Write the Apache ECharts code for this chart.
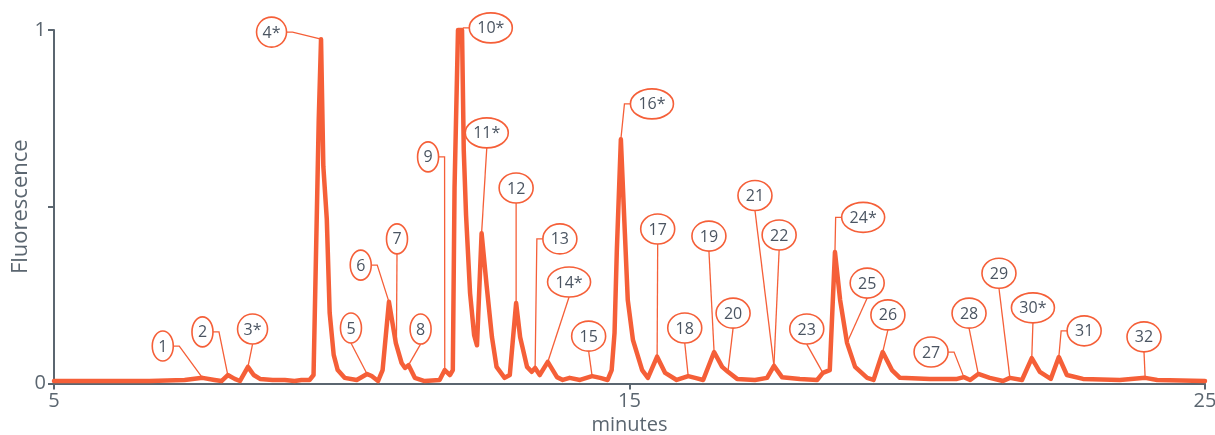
<!DOCTYPE html>
<html>
<head>
<meta charset="utf-8">
<script src="https://cdn.jsdelivr.net/npm/echarts@6/dist/echarts.min.js"></script>
<style>
  html, body { margin: 0; padding: 0; background: #ffffff; }
  #chart { width: 1215px; height: 435px; }
</style>
</head>
<body>
<div id="chart"></div>
<script>
// Chromatogram trace: retention time (minutes) and normalised fluorescence
const minutes = [
  5.00, 6.66, 7.27, 7.58, 7.79, 7.91, 8.02, 8.14, 8.23, 8.37,
  8.47, 8.58, 8.80, 9.01, 9.18, 9.30, 9.44, 9.51, 9.60, 9.64,
  9.68, 9.74, 9.79, 9.86, 9.93, 10.05, 10.26, 10.44, 10.52, 10.63,
  10.71, 10.82, 10.94, 11.04, 11.10, 11.16, 11.27, 11.44, 11.70, 11.79,
  11.88, 11.93, 11.96, 12.02, 12.09, 12.12, 12.16, 12.23, 12.30, 12.35,
  12.43, 12.52, 12.61, 12.69, 12.83, 12.92, 13.03, 13.10, 13.22, 13.30,
  13.36, 13.44, 13.58, 13.74, 13.84, 13.96, 14.14, 14.35, 14.49, 14.62,
  14.69, 14.74, 14.78, 14.85, 14.92, 14.97, 15.06, 15.22, 15.32, 15.48,
  15.62, 15.82, 16.02, 16.14, 16.28, 16.47, 16.61, 16.71, 16.87, 17.18,
  17.39, 17.51, 17.65, 17.96, 18.26, 18.36, 18.48, 18.57, 18.66, 18.78,
  18.92, 19.13, 19.24, 19.40, 19.56, 19.70, 20.22, 20.69, 20.81, 20.92,
  21.06, 21.26, 21.49, 21.61, 21.82, 21.99, 22.13, 22.32, 22.46, 22.60,
  22.88, 23.52, 23.96, 24.17, 25.00
];
const fluorescence = [
  0.007, 0.007, 0.010, 0.016, 0.010, 0.007, 0.024, 0.013, 0.007, 0.047,
  0.024, 0.013, 0.010, 0.010, 0.007, 0.010, 0.010, 0.024, 0.745, 0.974,
  0.614, 0.465, 0.200, 0.081, 0.038, 0.016, 0.010, 0.027, 0.021, 0.007,
  0.038, 0.231, 0.114, 0.058, 0.044, 0.052, 0.016, 0.007, 0.010, 0.038,
  0.024, 0.038, 0.555, 1.000, 1.000, 0.660, 0.476, 0.255, 0.137, 0.108,
  0.425, 0.273, 0.131, 0.047, 0.016, 0.024, 0.228, 0.131, 0.047, 0.033,
  0.044, 0.024, 0.061, 0.018, 0.010, 0.016, 0.010, 0.021, 0.016, 0.010,
  0.038, 0.143, 0.377, 0.691, 0.424, 0.236, 0.123, 0.038, 0.016, 0.076,
  0.030, 0.010, 0.021, 0.016, 0.010, 0.089, 0.047, 0.033, 0.013, 0.010,
  0.016, 0.050, 0.018, 0.013, 0.010, 0.030, 0.038, 0.372, 0.236, 0.115,
  0.047, 0.016, 0.010, 0.089, 0.038, 0.016, 0.013, 0.013, 0.018, 0.010,
  0.027, 0.016, 0.007, 0.016, 0.010, 0.072, 0.033, 0.013, 0.075, 0.024,
  0.013, 0.010, 0.016, 0.010, 0.007
];

// Axis ticks
const xTicks = [5, 15, 25];
const yTicks = [0, 0.5, 1];
const yTickLabels = ['0', '', '1'];

// Numbered peaks (* = marked compounds) and the point on the trace each one names
const peakNames = ['1', '2', '3*', '4*', '5', '6', '7', '8', '9', '10*', '11*', '12', '13', '14*', '15', '16*',
                   '17', '18', '19', '20', '21', '22', '23', '24*', '25', '26', '27', '28', '29', '30*', '31', '32'];
const peakMinute = [7.58, 8.02, 8.37, 9.64, 10.44, 10.82, 10.95, 11.16, 11.79, 12.09, 12.43, 13.03, 13.36, 13.58, 14.35, 14.85,
                    15.48, 16.02, 16.47, 16.71, 17.51, 17.51, 18.36, 18.57, 18.78, 19.40, 20.81, 21.06, 21.61, 21.99, 22.46, 23.96];
const peakSignal = [0.016, 0.024, 0.047, 0.974, 0.027, 0.231, 0.112, 0.052, 0.038, 1.000, 0.425, 0.228, 0.044, 0.061, 0.021, 0.691,
                    0.076, 0.021, 0.089, 0.033, 0.050, 0.050, 0.030, 0.372, 0.115, 0.089, 0.018, 0.027, 0.016, 0.072, 0.075, 0.016];

// Callout placement (data units) and the edge of the bubble that the leader enters
const calloutLayout = {
  minute: [6.89, 7.58, 8.45, 8.78, 10.16, 10.33, 10.96, 11.37, 11.50, 12.59, 12.52, 13.03, 13.79, 13.95, 14.29, 15.39,
           15.49, 15.96, 16.38, 16.80, 17.18, 17.60, 18.08, 19.06, 19.13, 19.49, 20.24, 20.90, 21.42, 22.01, 22.90, 23.94],
  signal: [0.106, 0.146, 0.154, 0.994, 0.157, 0.335, 0.409, 0.154, 0.641, 1.006, 0.709, 0.553, 0.409, 0.287, 0.134, 0.791,
           0.437, 0.157, 0.417, 0.199, 0.532, 0.420, 0.154, 0.470, 0.284, 0.194, 0.089, 0.199, 0.312, 0.214, 0.149, 0.132],
  edge:   ['r', 'r', 'b', 'r', 'b', 'r', 'b', 'b', 'r', 'l', 'b', 'b', 'l', 'b', 'b', 'l',
           'b', 'b', 'b', 'b', 'b', 'b', 'b', 'l', 'b', 'b', 'r', 'b', 'b', 'b', 'l', 'b']
};

const TRACE = '#f55f38';
const INK = '#4b5562';
const AXIS = '#5b6670';
const FONT = '"Open Sans", "Liberation Sans", sans-serif';

const traceData = minutes.map((m, i) => [m, fluorescence[i]]);
const calloutData = peakNames.map((n, i) =>
  [peakMinute[i], peakSignal[i], calloutLayout.minute[i], calloutLayout.signal[i], i]);

function bubbleHalfWidth(name) {
  const digits = name.replace('*', '').length;
  const stars = name.length - digits;
  return (13 * digits + 8 + 9 * stars) / 2;
}

function renderCallout(params, api) {
  const i = api.value(4);
  const p = api.coord([api.value(0), api.value(1)]);
  const c = api.coord([api.value(2), api.value(3)]);
  const name = peakNames[i];
  const rx = bubbleHalfWidth(name);
  const ry = 15;
  const edge = calloutLayout.edge[i];
  let pts;
  if (edge === 'b') {
    pts = [p, [c[0], c[1] + ry]];
  } else if (edge === 'r') {
    pts = [p, [c[0] + rx + 6, c[1]], [c[0] + rx, c[1]]];
  } else {
    pts = [p, [c[0] - rx - 6, c[1]], [c[0] - rx, c[1]]];
  }
  return {
    type: 'group',
    children: [
      { type: 'polyline', shape: { points: pts },
        style: { stroke: TRACE, lineWidth: 1.3, fill: null } },
      { type: 'ellipse', shape: { cx: c[0], cy: c[1], rx: rx, ry: ry },
        style: { stroke: TRACE, lineWidth: 1.6, fill: '#ffffff' } },
      { type: 'text',
        style: { text: name, x: c[0], y: c[1] + 1, align: 'center', verticalAlign: 'middle',
                 fill: INK, font: '16px ' + FONT } }
    ]
  };
}

const chart = echarts.init(document.getElementById('chart'), null, { renderer: 'canvas' });
chart.setOption({
  animation: false,
  backgroundColor: '#ffffff',
  grid: { left: 54, right: 10, top: 30, bottom: 51.5, containLabel: false, outerBoundsMode: 'none' },
  xAxis: {
    type: 'value',
    min: xTicks[0], max: xTicks[xTicks.length - 1], interval: xTicks[1] - xTicks[0],
    name: 'minutes', nameLocation: 'middle', nameGap: 32, nameMoveOverlap: false,
    nameTextStyle: { color: AXIS, fontSize: 20, fontFamily: FONT },
    axisLine: { show: true, lineStyle: { color: AXIS, width: 2 } },
    axisTick: { show: true, length: 6, lineStyle: { color: AXIS, width: 2 } },
    axisLabel: { color: AXIS, fontSize: 20, fontFamily: FONT, margin: 8 },
    splitLine: { show: false }
  },
  yAxis: {
    type: 'value',
    min: yTicks[0], max: yTicks[yTicks.length - 1], interval: yTicks[1] - yTicks[0],
    name: 'Fluorescence', nameLocation: 'middle', nameGap: 22, nameMoveOverlap: false,
    nameTextStyle: { color: AXIS, fontSize: 22, fontFamily: FONT },
    axisLine: { show: true, lineStyle: { color: AXIS, width: 2 } },
    axisTick: { show: true, length: 6, lineStyle: { color: AXIS, width: 2 } },
    axisLabel: { color: AXIS, fontSize: 20, fontFamily: FONT, margin: 8,
                 formatter: v => yTickLabels[yTicks.indexOf(v)] ?? '' },
    splitLine: { show: false }
  },
  series: [
    {
      type: 'line',
      data: traceData,
      showSymbol: false,
      clip: false,
      lineStyle: { color: TRACE, width: 4.5, join: 'round', cap: 'round' },
      z: 2
    },
    {
      type: 'custom',
      data: calloutData,
      encode: { x: [0, 2], y: [1, 3] },
      renderItem: renderCallout,
      clip: false,
      z: 3
    }
  ]
});
</script>
</body>
</html>
